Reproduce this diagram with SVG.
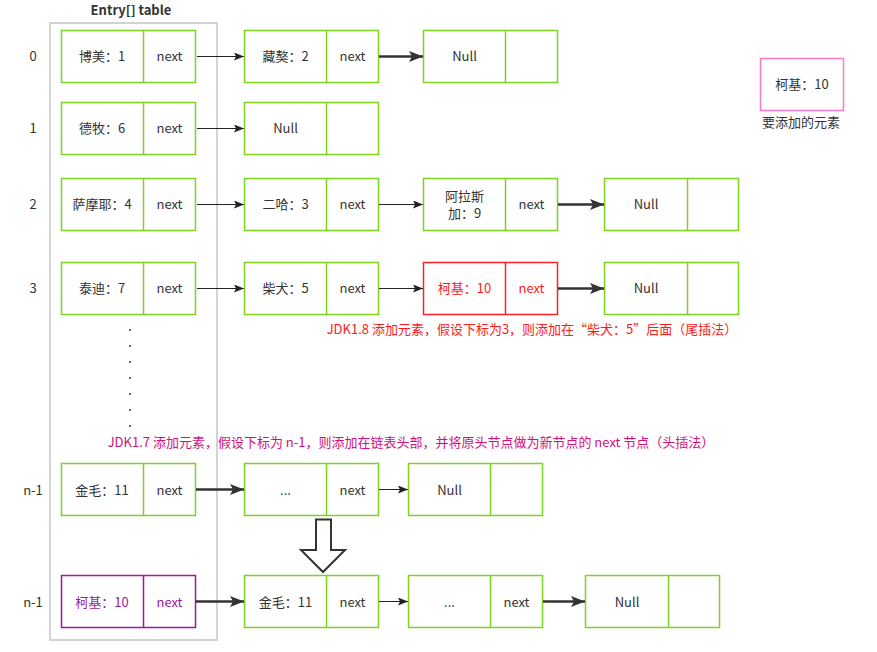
<svg xmlns="http://www.w3.org/2000/svg" width="877" height="652" viewBox="0 0 877 652">
<defs>
<style>
text{font-family:"Microsoft YaHei","Noto Sans CJK SC","Liberation Sans",sans-serif;font-size:13px;fill:#333;text-anchor:middle}
.g{fill:#fff;stroke:#7ed321;stroke-width:1.5}
.r{fill:#fff;stroke:#ff2222;stroke-width:1.5}
.p{fill:#fff;stroke:#a0179f;stroke-width:1.5}
.pk{fill:#fff;stroke:#ff7ac0;stroke-width:1.5}
.thin{stroke:#222;stroke-width:1;fill:none;marker-end:url(#a1)}
.thick{stroke:#333;stroke-width:2.5;fill:none;marker-end:url(#a2)}
.lbl{fill:#333}
.rt{fill:#ff1a1a}
.pt{fill:#9a1a9f}
</style>
<marker id="a1" markerUnits="userSpaceOnUse" markerWidth="10" markerHeight="8" refX="10" refY="4" orient="auto"><path d="M0,0 L10,4 L0,8 L2,4 z" fill="#222"/></marker>
<marker id="a2" markerUnits="userSpaceOnUse" markerWidth="14" markerHeight="11" refX="14" refY="5.5" orient="auto"><path d="M0,0 L14,5.5 L0,11 L3,5.5 z" fill="#333"/></marker>
</defs>
<rect width="877" height="652" fill="#fff"/>
<text x="131" y="15" style="font-weight:bold;fill:#333">Entry[] table</text>
<rect id="table" x="50" y="23" width="167" height="617" fill="none" stroke="#d3d3d3" stroke-width="2"/>
<g id="index-labels">
<text x="33" y="61">0</text>
<text x="33" y="133">1</text>
<text x="33" y="209">2</text>
<text x="33" y="293">3</text>
<text x="33" y="495">n-1</text>
<text x="33" y="607">n-1</text>
</g>
<g id="dots" fill="#333">
<circle cx="130" cy="330" r="1"/><circle cx="130" cy="346" r="1"/><circle cx="130" cy="362" r="1"/><circle cx="130" cy="378" r="1"/><circle cx="130" cy="394" r="1"/><circle cx="130" cy="410" r="1"/><circle cx="130" cy="426" r="1"/>
</g>
<!-- row 0 -->
<g id="n0a"><rect class="g" x="61.5" y="30.5" width="134" height="52"/><line class="g" x1="143.5" y1="30.5" x2="143.5" y2="82.5"/><text x="102" y="61">博美：1</text><text x="169.5" y="61">next</text></g>
<g id="n0b"><rect class="g" x="244.5" y="30.5" width="134" height="52"/><line class="g" x1="326.5" y1="30.5" x2="326.5" y2="82.5"/><text x="285.5" y="61">藏獒：2</text><text x="352.5" y="61">next</text></g>
<g id="n0c"><rect class="g" x="423.5" y="30.5" width="134" height="52"/><line class="g" x1="505.5" y1="30.5" x2="505.5" y2="82.5"/><text x="464.5" y="61">Null</text></g>
<!-- row 1 -->
<g id="n1a"><rect class="g" x="61.5" y="102.5" width="134" height="52"/><line class="g" x1="143.5" y1="102.5" x2="143.5" y2="154.5"/><text x="102" y="133">德牧：6</text><text x="169.5" y="133">next</text></g>
<g id="n1b"><rect class="g" x="244.5" y="102.5" width="134" height="52"/><line class="g" x1="326.5" y1="102.5" x2="326.5" y2="154.5"/><text x="285.5" y="133">Null</text></g>
<!-- row 2 -->
<g id="n2a"><rect class="g" x="61.5" y="178.5" width="134" height="52"/><line class="g" x1="143.5" y1="178.5" x2="143.5" y2="230.5"/><text x="102" y="209">萨摩耶：4</text><text x="169.5" y="209">next</text></g>
<g id="n2b"><rect class="g" x="244.5" y="178.5" width="134" height="52"/><line class="g" x1="326.5" y1="178.5" x2="326.5" y2="230.5"/><text x="285.5" y="209">二哈：3</text><text x="352.5" y="209">next</text></g>
<g id="n2c"><rect class="g" x="423.5" y="178.5" width="134" height="52"/><line class="g" x1="505.5" y1="178.5" x2="505.5" y2="230.5"/><text x="464.5" y="201">阿拉斯</text><text x="464.5" y="218">加：9</text><text x="531.5" y="209">next</text></g>
<g id="n2d"><rect class="g" x="604.5" y="178.5" width="134" height="52"/><line class="g" x1="687.5" y1="178.5" x2="687.5" y2="230.5"/><text x="646" y="209">Null</text></g>
<!-- row 3 -->
<g id="n3a"><rect class="g" x="61.5" y="262.5" width="134" height="52"/><line class="g" x1="143.5" y1="262.5" x2="143.5" y2="314.5"/><text x="102" y="293">泰迪：7</text><text x="169.5" y="293">next</text></g>
<g id="n3b"><rect class="g" x="244.5" y="262.5" width="134" height="52"/><line class="g" x1="326.5" y1="262.5" x2="326.5" y2="314.5"/><text x="285.5" y="293">柴犬：5</text><text x="352.5" y="293">next</text></g>
<g id="n3c"><rect class="r" x="423.5" y="262.5" width="134" height="52"/><line class="r" x1="505.5" y1="262.5" x2="505.5" y2="314.5"/><text class="rt" x="464.5" y="293">柯基：10</text><text class="rt" x="531.5" y="293">next</text></g>
<g id="n3d"><rect class="g" x="604.5" y="262.5" width="134" height="52"/><line class="g" x1="687.5" y1="262.5" x2="687.5" y2="314.5"/><text x="646" y="293">Null</text></g>
<!-- row n-1 -->
<g id="n4a"><rect class="g" x="61.5" y="463.5" width="134" height="52"/><line class="g" x1="143.5" y1="463.5" x2="143.5" y2="515.5"/><text x="102" y="495">金毛：11</text><text x="169.5" y="495">next</text></g>
<g id="n4b"><rect class="g" x="244.5" y="463.5" width="134" height="52"/><line class="g" x1="326.5" y1="463.5" x2="326.5" y2="515.5"/><text x="285.5" y="495">...</text><text x="352.5" y="495">next</text></g>
<g id="n4c"><rect class="g" x="408.5" y="463.5" width="134" height="52"/><line class="g" x1="490.5" y1="463.5" x2="490.5" y2="515.5"/><text x="449.5" y="495">Null</text></g>
<!-- bottom row -->
<g id="n5a"><rect class="p" x="61.5" y="575.5" width="134" height="52"/><line class="p" x1="143.5" y1="575.5" x2="143.5" y2="627.5"/><text class="pt" x="102" y="607">柯基：10</text><text class="pt" x="169.5" y="607">next</text></g>
<g id="n5b"><rect class="g" x="244.5" y="575.5" width="134" height="52"/><line class="g" x1="326.5" y1="575.5" x2="326.5" y2="627.5"/><text x="285.5" y="607">金毛：11</text><text x="352.5" y="607">next</text></g>
<g id="n5c"><rect class="g" x="408.5" y="575.5" width="134" height="52"/><line class="g" x1="490.5" y1="575.5" x2="490.5" y2="627.5"/><text x="449.5" y="607">...</text><text x="516.5" y="607">next</text></g>
<g id="n5d"><rect class="g" x="585.5" y="575.5" width="134" height="52"/><line class="g" x1="668.5" y1="575.5" x2="668.5" y2="627.5"/><text x="627" y="607">Null</text></g>
<!-- element to add -->
<g id="new"><rect class="pk" x="760.5" y="58.5" width="83" height="52"/><text x="802" y="89">柯基：10</text><text x="801" y="127">要添加的元素</text></g>
<g id="connectors">
<line class="thin" x1="197" y1="56.5" x2="244" y2="56.5"/>
<line class="thick" x1="379" y1="56.5" x2="423" y2="56.5"/>
<line class="thin" x1="197" y1="128.5" x2="244" y2="128.5"/>
<line class="thin" x1="197" y1="204.5" x2="244" y2="204.5"/>
<line class="thin" x1="379" y1="204.5" x2="423" y2="204.5"/>
<line class="thick" x1="558" y1="204.5" x2="604" y2="204.5"/>
<line class="thin" x1="197" y1="288.5" x2="244" y2="288.5"/>
<line class="thin" x1="379" y1="288.5" x2="423" y2="288.5"/>
<line class="thick" x1="558" y1="288.5" x2="604" y2="288.5"/>
<line class="thick" x1="196" y1="489.5" x2="244" y2="489.5"/>
<line class="thin" x1="379" y1="489.5" x2="408" y2="489.5"/>
<line class="thick" x1="196" y1="601.5" x2="244" y2="601.5"/>
<line class="thin" x1="379" y1="601.5" x2="408" y2="601.5"/>
<line class="thick" x1="543" y1="601.5" x2="585" y2="601.5"/>
</g>
<path id="down-arrow" d="M316,519.5 L331,519.5 L331,550 L345,550 L323,572 L301,550 L316,550 Z" fill="#fff" stroke="#333" stroke-width="2" stroke-linejoin="miter"/>
<text x="532" y="334" style="fill:#ff1a1a">JDK1.8 添加元素，假设下标为3，则添加在“柴犬：5”后面（尾插法）</text>
<text x="411" y="447" style="fill:#d4117a">JDK1.7 添加元素，假设下标为 n-1，则添加在链表头部，并将原头节点做为新节点的 next 节点（头插法）</text>
</svg>
